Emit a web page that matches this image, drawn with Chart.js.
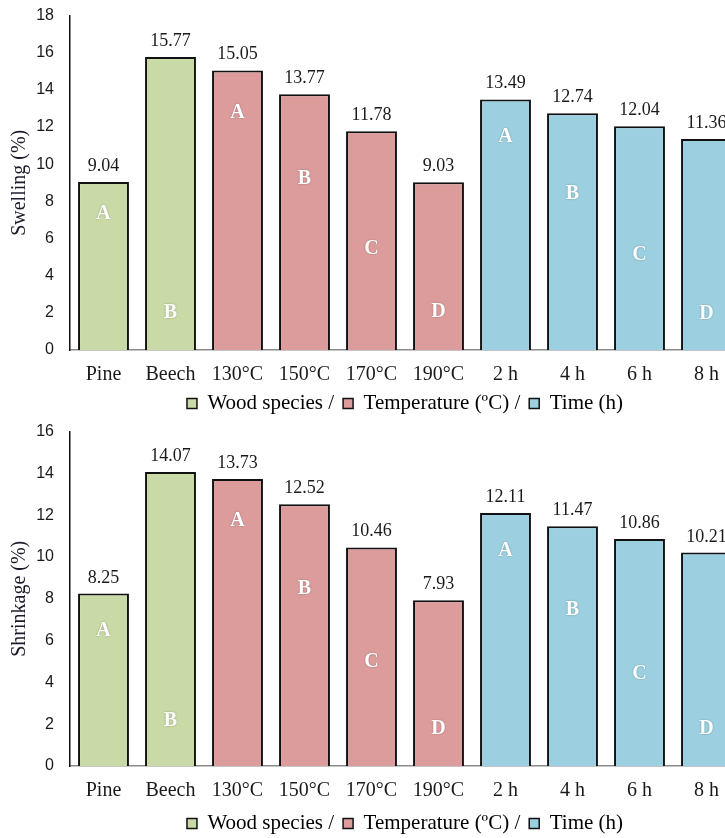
<!DOCTYPE html>
<html>
<head>
<meta charset="utf-8">
<script src="https://cdn.jsdelivr.net/npm/chart.js@4/dist/chart.umd.min.js"></script>
<style>
  html, body { margin: 0; padding: 0; background: #fff; overflow: hidden; }
  #wrap { width: 725px; height: 838px; overflow: hidden; position: relative; }
  .box { width: 745px; position: absolute; left: 0; }
  #b1 { top: -10px; height: 434px; }
  #b2 { top: 406px; height: 438px; }
</style>
</head>
<body>
<div id="wrap">
  <div class="box" id="b1"><canvas id="myChart1"></canvas></div>
  <div class="box" id="b2"><canvas id="myChart2"></canvas></div>
</div>
<script>
// categories on the x axis
const categories = ['Pine', 'Beech', '130°C', '150°C', '170°C', '190°C', '2 h', '4 h', '6 h', '8 h'];

// series values
const swelling = [9.04, 15.77, 15.05, 13.77, 11.78, 9.03, 13.49, 12.74, 12.04, 11.36];
const shrinkage = [8.25, 14.07, 13.73, 12.52, 10.46, 7.93, 12.11, 11.47, 10.86, 10.21];

// letter groups printed inside the bars
const letters = ['A', 'B', 'A', 'B', 'C', 'D', 'A', 'B', 'C', 'D'];

// which legend group each category belongs to
const groupOf = [0, 0, 1, 1, 1, 1, 2, 2, 2, 2];
const groupNames = ['Wood species /', 'Temperature (ºC) /', 'Time (h)'];
const groupColors = ['#C9DAA6', '#DC9C9C', '#9CD0E0'];

const serif = "'Liberation Serif', 'DejaVu Serif', serif";
const sans = "'Liberation Sans', Arial, sans-serif";

// plugin that writes value labels on top and letters inside the bars
const barText = {
  id: 'barText',
  afterDatasetsDraw(chart, args, opts) {
    const ctx = chart.ctx;
    const yScale = chart.scales.y;
    ctx.save();
    chart.data.datasets.forEach((ds, d) => {
      const meta = chart.getDatasetMeta(d);
      meta.data.forEach((bar, i) => {
        const v = ds.data[i];
        if (v == null) return;
        ctx.font = '18px ' + serif;
        ctx.fillStyle = '#1a1a1a';
        ctx.textAlign = 'center';
        ctx.textBaseline = 'alphabetic';
        ctx.fillText(v.toFixed(2), bar.x, bar.y - 11);
        // letter
        ctx.font = 'bold 20px ' + serif;
        ctx.fillStyle = '#ffffff';
        ctx.textBaseline = 'middle';
        ctx.shadowColor = 'rgba(0,0,0,0.3)';
        ctx.shadowBlur = 2;
        ctx.fillText(letters[i], bar.x, yScale.getPixelForValue(opts.letterAt[i]));
        ctx.shadowBlur = 0;
      });
    });
    ctx.restore();
  }
};

const renderChart = (i, values, title, yMax, letterAt, xHeight) => {
  const ctx = document.getElementById(`myChart${i}`).getContext('2d');
  const datasets = groupNames.map((name, g) => ({
    label: name,
    data: values.map((v, k) => (groupOf[k] === g ? v : null)),
    backgroundColor: groupColors[g],
    borderColor: '#111',
    borderWidth: 2,
    barPercentage: 0.76,
    categoryPercentage: 1,
    grouped: false,
  }));
  return new Chart(ctx, {
    type: 'bar',
    data: { labels: categories, datasets },
    plugins: [barText],
    options: {
      responsive: true,
      maintainAspectRatio: false,
      animation: false,
      layout: { padding: { top: 1, right: 5, bottom: 0, left: 0 } },
      plugins: {
        tooltip: { enabled: false },
        barText: { letterAt },
        legend: {
          position: 'bottom',
          fullSize: false,
          labels: {
            color: '#1a1a1a',
            font: { family: serif, size: 21 },
            boxWidth: 10,
            boxHeight: 10,
            padding: 9,
            generateLabels: () => groupNames.map((n, g) => ({
              text: n,
              fillStyle: groupColors[g],
              strokeStyle: '#111',
              lineWidth: 1.5,
              datasetIndex: g,
            })),
          },
        },
      },
      scales: {
        x: {
          grid: { display: false, drawTicks: false },
          border: { display: true, color: '#8c8c8c', width: 1.5 },
          ticks: { color: '#1a1a1a', font: { family: serif, size: 20 }, padding: 13, maxRotation: 0, autoSkip: false },
          afterFit: (s) => { s.height = xHeight; },
        },
        y: {
          min: 0,
          max: yMax,
          grid: { display: false, drawTicks: false },
          border: { display: true, color: '#111', width: 1.5 },
          ticks: { stepSize: 2, color: '#1a1a1a', font: { family: sans, size: 16 }, padding: 16 },
          title: { display: true, text: title, color: '#1a1a2a', font: { family: serif, size: 20 }, padding: { top: 8, bottom: 0 } },
          afterFit: (s) => { s.width = 70; },
        },
      },
    },
  });
};

renderChart(1, swelling, 'Swelling (%)', 18, [7.34, 1.98, 12.75, 9.2, 5.46, 2.04, 11.46, 8.4, 5.14, 1.93], 34);
renderChart(2, shrinkage, 'Shrinkage (%)', 16, [6.45, 2.15, 11.75, 8.5, 5.0, 1.77, 10.3, 7.45, 4.4, 1.77], 38);
</script>
</body>
</html>
